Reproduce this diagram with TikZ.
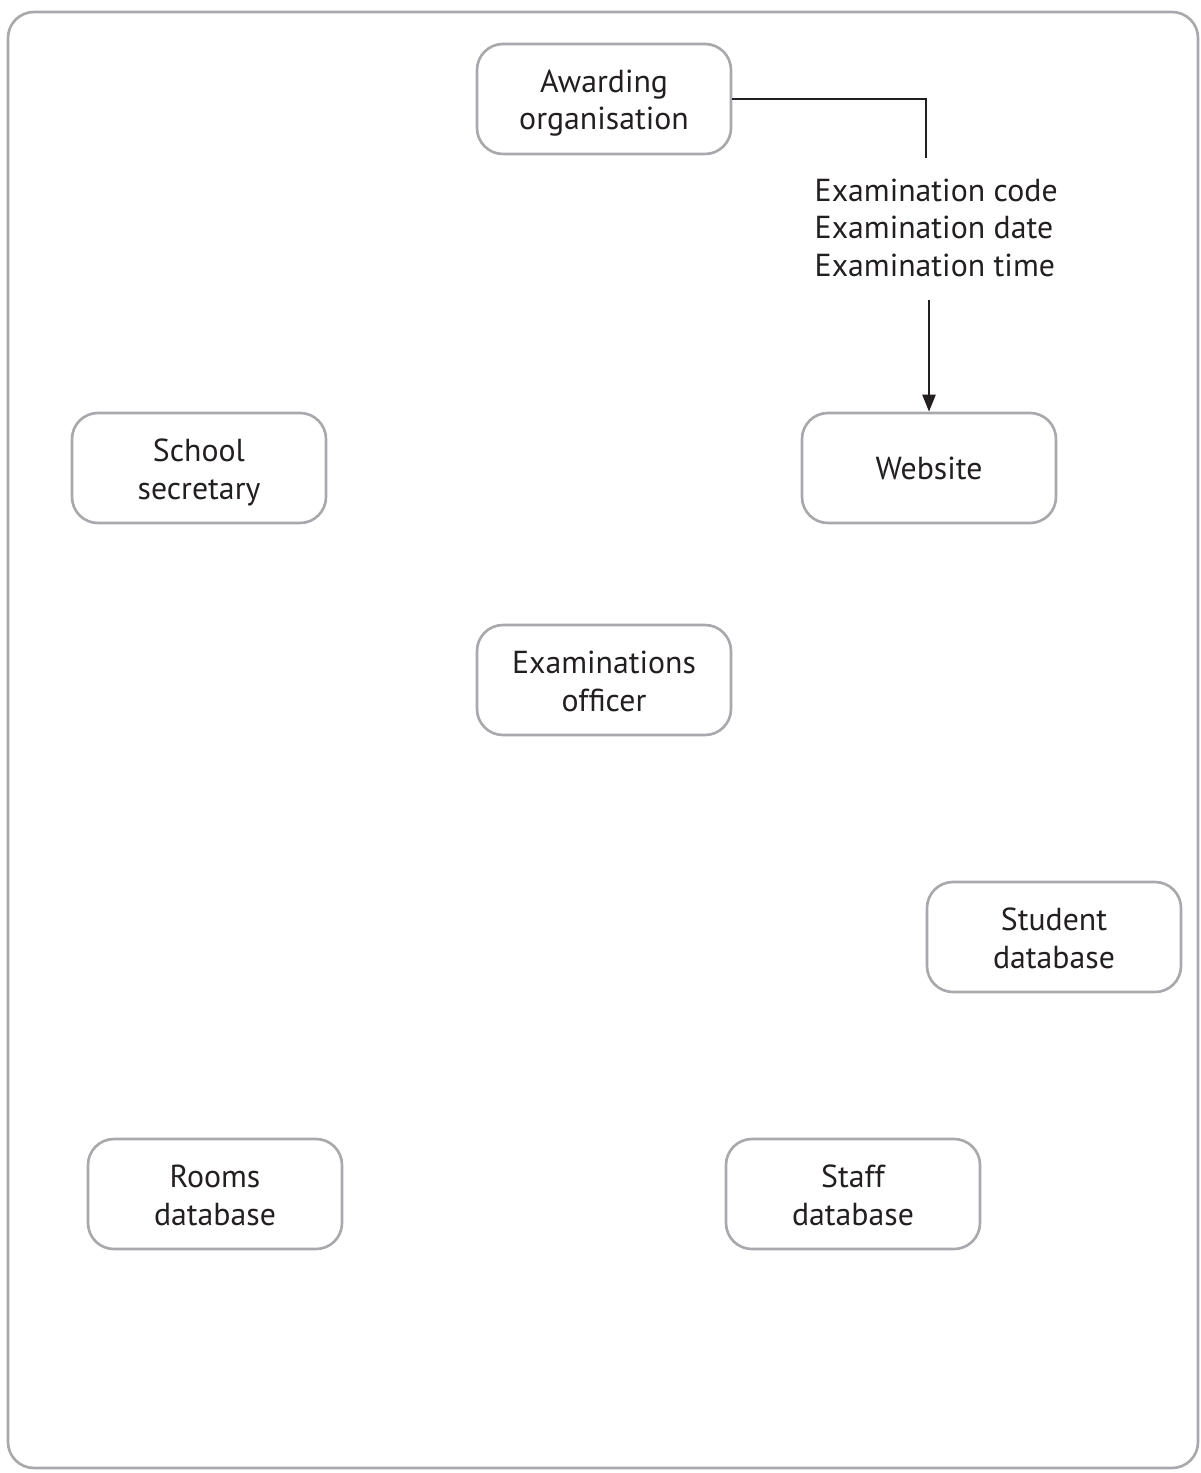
\documentclass[tikz,border=0pt]{standalone}
\usepackage{fontspec}
\setmainfont{PT Sans}
\usetikzlibrary{arrows.meta}
\definecolor{boxgray}{HTML}{A7A9AC}
\definecolor{ink}{HTML}{231F20}
\tikzset{
  entity/.style={draw=boxgray,line width=0.75pt,rounded corners=0.26cm,
    minimum width=2.54cm,minimum height=1.1cm,align=center,text=ink,
    font=\fontsize{9.05}{10.7}\selectfont},
  entity2/.style={entity,text height=0.71cm,text depth=0.09cm},
  flow/.style={draw=ink,line width=0.7pt}
}

\begin{document}
\begin{tikzpicture}
  \useasboundingbox (0,0) rectangle (12,-14.73);
  \draw[boxgray,line width=0.75pt,rounded corners=0.26cm] (0.08,-0.12) rectangle (11.98,-14.68);
  \node[entity2] (award)   at (6.04,-0.99)  {Awarding\\organisation};
  \node[entity2] (sec)     at (1.99,-4.68)  {School\\secretary};
  \node[entity]  (web)     at (9.29,-4.68)  {Website};
  \node[entity2] (officer) at (6.04,-6.80)  {Examinations\\officer};
  \node[entity2] (student) at (10.54,-9.37) {Student\\database};
  \node[entity2] (rooms)   at (2.15,-11.94) {Rooms\\database};
  \node[entity2] (staff)   at (8.53,-11.94) {Staff\\database};
  \node[anchor=north west,align=left,inner sep=0pt,text=ink,
    font=\fontsize{9.05}{10.7}\selectfont] (examdata) at (8.14,-1.78)
    {Examination code\\Examination date\\Examination time};
  \coordinate (bend) at (9.26,-0.99);
  \coordinate (gapend) at (9.26,-1.58);
  \coordinate (gapstart) at (9.29,-3.00);
  \draw[flow] (award.east) -- (bend) -- (gapend);
  \draw[flow,-{Triangle[length=0.17cm,width=0.13cm]}] (gapstart) -- (web.north);
\end{tikzpicture}
\end{document}
